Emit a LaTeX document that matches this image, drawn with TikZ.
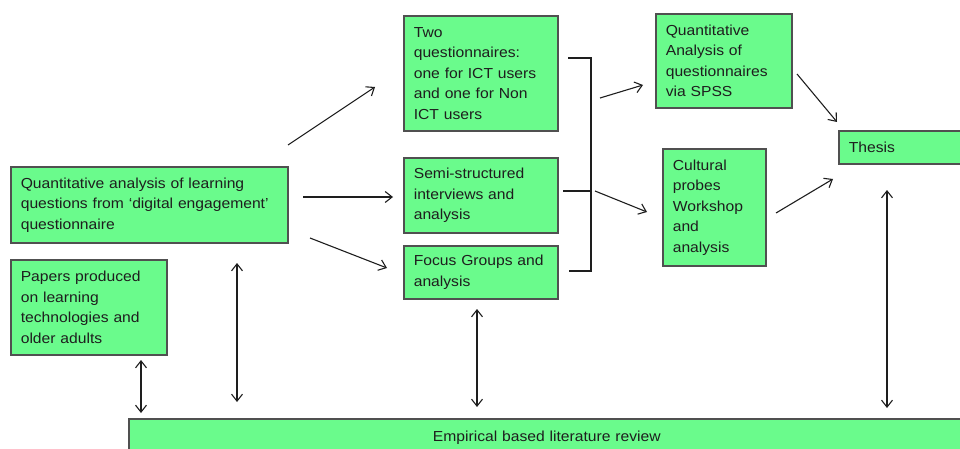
\documentclass[tikz,border=0pt]{standalone}
\usepackage{fontspec}
\setmainfont[FakeStretch=1.08]{Liberation Sans}
\usetikzlibrary{arrows.meta}
\definecolor{boxgreen}{RGB}{106,251,140}
\definecolor{boxedge}{RGB}{80,80,80}
\definecolor{inkdark}{RGB}{30,30,30}
\begin{document}
\begin{tikzpicture}[x=1pt,y=-1pt,
  stagebox/.style={draw=boxedge,line width=1.6pt,fill=boxgreen,text=inkdark,
    anchor=north west,align=left,inner xsep=10pt,inner ysep=0pt,
    font=\fontsize{14.5}{20.5}\selectfont},
  link/.style={draw=inkdark,line width=1.1pt,-{Straight Barb[length=7pt,width=11pt]}},
  twolink/.style={draw=inkdark,line width=1.1pt,{Straight Barb[length=7pt,width=11pt]}-{Straight Barb[length=7pt,width=11pt]}},
  bracketline/.style={draw=inkdark,line width=1.1pt}]
\useasboundingbox (0,0) rectangle (960,449);
\clip (0,0) rectangle (960,449);

% first column
\node[stagebox,minimum width=277pt,minimum height=76pt,text width=257pt] (quant) at (10,166)
  {\mbox{Quantitative analysis of learning}\\\mbox{questions from `digital engagement'}\\questionnaire};
\node[stagebox,minimum width=156pt,minimum height=95pt,text width=136pt] (papers) at (10,259)
  {Papers produced\\on learning\\technologies and\\older adults};

% data collection
\node[stagebox,minimum width=154pt,minimum height=115pt,text width=134pt] (twoq) at (403,15)
  {Two\\questionnaires:\\\mbox{one for ICT users}\\and one for Non\\ICT users};
\node[stagebox,minimum width=154pt,minimum height=75pt,text width=134pt] (semi) at (403,157)
  {Semi-structured\\interviews and\\analysis};
\node[stagebox,minimum width=154pt,minimum height=53pt,text width=134pt] (focus) at (403,245)
  {Focus Groups and\\analysis};

% analysis
\node[stagebox,minimum width=136pt,minimum height=94pt,text width=116pt] (spss) at (655,13)
  {Quantitative\\Analysis of\\questionnaires\\via SPSS};
\node[stagebox,minimum width=103pt,minimum height=117pt,text width=83pt] (probes) at (662,148)
  {Cultural\\probes\\Workshop\\and\\analysis};

% outcome
\node[stagebox,minimum width=140pt,minimum height=33pt,text width=120pt] (thesis) at (838,130)
  {Thesis};
\node[stagebox,anchor=north west,minimum width=850pt,minimum height=40pt,text width=830pt,align=center,
  inner xsep=10pt] (review) at (128,418) {\raisebox{6pt}{Empirical based literature review}\hspace*{14pt}};

% arrows out of the first analysis
\draw[link] (288,145) -- (375,87);
\draw[link] (303,197) -- (393,197);
\draw[link] (310,238) -- (387,268);

% bracket gathering the three methods
\coordinate (bt) at (591,58);
\coordinate (bm) at (591,191);
\coordinate (bb) at (591,271);
\draw[bracketline] (568,58) -- (bt) -- (bb) -- (569,271);
\draw[bracketline] (563,191) -- (bm);

\draw[link] (600,98) -- (643,85);
\draw[link] (595,191) -- (647,212);

% into the thesis
\draw[link] (797,74) -- (837,122);
\draw[link] (776,213) -- (833,179);

% links with the literature review
\draw[twolink] (141,360) -- (141,413);
\draw[twolink] (237,263) -- (237,402);
\draw[twolink] (477,309) -- (477,407);
\draw[twolink] (887,190) -- (887,408);
\end{tikzpicture}
\end{document}
